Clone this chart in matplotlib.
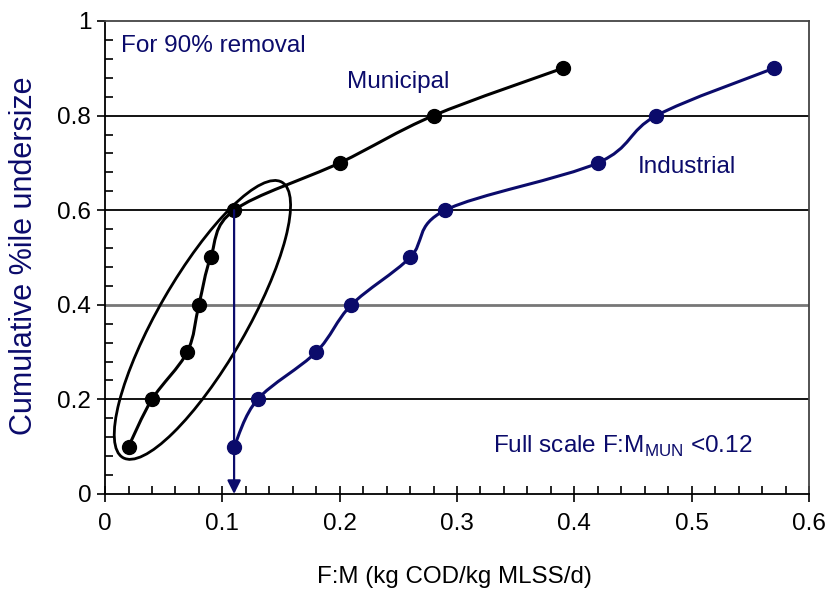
import numpy as np
import matplotlib
matplotlib.use('Agg')
import matplotlib.pyplot as plt
from matplotlib.path import Path
from matplotlib.patches import PathPatch, Ellipse
from matplotlib.transforms import ScaledTranslation
from matplotlib.ticker import MultipleLocator

plt.rcParams['font.family'] = ['Liberation Sans', 'DejaVu Sans']

# data
mun_fm = [0.02, 0.04, 0.07, 0.08, 0.09, 0.11, 0.20, 0.28, 0.39]
mun_pct = [0.1, 0.2, 0.3, 0.4, 0.5, 0.6, 0.7, 0.8, 0.9]
ind_fm = [0.11, 0.13, 0.18, 0.21, 0.26, 0.29, 0.42, 0.47, 0.57]
ind_pct = [0.1, 0.2, 0.3, 0.4, 0.5, 0.6, 0.7, 0.8, 0.9]
design_fm = 0.11
design_pct = 0.6

navy = '#0b0b6b'


def smooth_path(xs, ys):
	# catmull-rom through the points, drawn as cubic beziers
	pts = np.column_stack([xs, ys]).astype(float)
	n = len(pts)
	verts = [pts[0]]
	codes = [Path.MOVETO]
	for i in range(n - 1):
		p0 = pts[i - 1] if i > 0 else pts[i]
		p1 = pts[i]
		p2 = pts[i + 1]
		p3 = pts[i + 2] if i + 2 < n else pts[i + 1]
		verts += [p1 + (p2 - p0) / 6, p2 - (p3 - p1) / 6, p2]
		codes += [Path.CURVE4] * 3
	return Path(verts, codes)


fig = plt.figure(figsize=(8.31, 5.93), dpi=100)
ax = fig.add_axes([0.1264, 0.167, 0.8471, 0.7976])
ax.set_xlim(0, 0.6)
ax.set_ylim(0, 1)

# gridlines
for g in [0.2, 0.6, 0.8]:
	ax.axhline(g, color='black', lw=1.3, zorder=1)
ax.axhline(0.4, color='#777777', lw=2, zorder=1)

ax.add_patch(PathPatch(smooth_path(mun_fm, mun_pct), fc='none', ec='black', lw=2.2, zorder=3))
ax.plot(mun_fm, mun_pct, 'o', color='black', ms=10, zorder=4)
ax.add_patch(PathPatch(smooth_path(ind_fm, ind_pct), fc='none', ec=navy, lw=2.2, zorder=3))
ax.plot(ind_fm, ind_pct, 'o', color=navy, ms=10, zorder=4)

# arrow down from the design point
ax.annotate('', xy=(design_fm, 0.0), xytext=(design_fm, design_pct),
	arrowprops=dict(arrowstyle='-|>', color=navy, lw=1.6, mutation_scale=20, shrinkA=0, shrinkB=0), zorder=5)

# ellipse round the low F:M municipal points (size in inches)
ell = Ellipse((0, 0), 3.18, 0.88, angle=60, fill=False, ec='black', lw=2,
	transform=fig.dpi_scale_trans + ScaledTranslation(0.083, 0.368, ax.transData), zorder=3)
ax.add_patch(ell)

ax.text(0.014, 0.948, 'For 90% removal', color=navy, fontsize=17.5, va='center', ha='left')
ax.text(0.25, 0.871, 'Municipal', color=navy, fontsize=17.5, va='center', ha='center')
ax.text(0.496, 0.691, 'Industrial', color=navy, fontsize=17.5, va='center', ha='center')
ax.text(0.331, 0.1, r'Full scale F:M$_{\mathregular{MUN}}$ <0.12', color=navy, fontsize=17.5, va='center', ha='left')

ax.xaxis.set_major_locator(MultipleLocator(0.1))
ax.xaxis.set_minor_locator(MultipleLocator(0.02))
ax.yaxis.set_major_locator(MultipleLocator(0.2))
ax.yaxis.set_minor_locator(MultipleLocator(0.04))
ax.xaxis.set_major_formatter(plt.FuncFormatter(lambda v, p: '%g' % round(v, 2)))
ax.yaxis.set_major_formatter(plt.FuncFormatter(lambda v, p: '%g' % round(v, 2)))
ax.tick_params(axis='x', which='major', direction='inout', length=12, width=1.2, labelsize=17.5, pad=8)
ax.tick_params(axis='x', which='minor', direction='in', length=6, width=1.2)
ax.tick_params(axis='y', which='major', direction='out', length=6, width=1.2, labelsize=17.5, pad=4)
ax.tick_params(axis='y', which='minor', direction='in', length=6, width=1.2)

for s in ax.spines.values():
	s.set_linewidth(1.3)
ax.spines['top'].set_color('#444444')
ax.spines['right'].set_color('#444444')

ax.set_xlabel('F:M (kg COD/kg MLSS/d)', fontsize=17.4)
ax.xaxis.set_label_coords(0.497, -0.152)
ax.set_ylabel('Cumulative %ile undersize', fontsize=22, color=navy, va='center')
ax.yaxis.set_label_coords(-0.115, 0.503)

fig.savefig('out.png', dpi=100)
